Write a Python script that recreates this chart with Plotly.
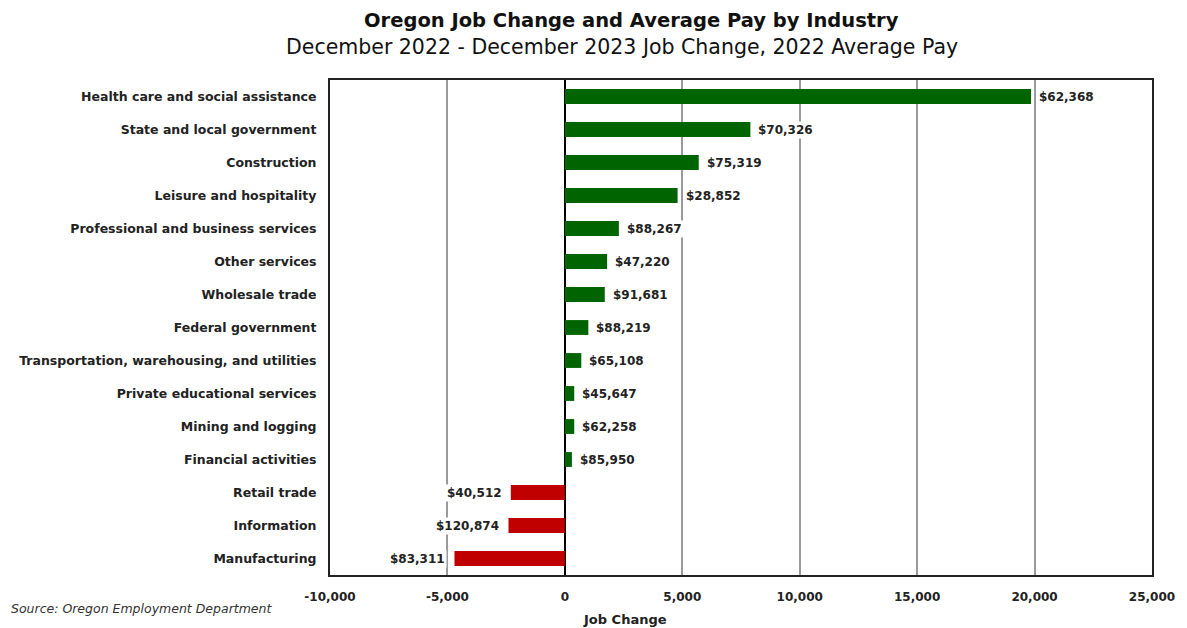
import plotly.graph_objects as go

# Industries listed top to bottom
industries = [
    "Health care and social assistance",
    "State and local government",
    "Construction",
    "Leisure and hospitality",
    "Professional and business services",
    "Other services",
    "Wholesale trade",
    "Federal government",
    "Transportation, warehousing, and utilities",
    "Private educational services",
    "Mining and logging",
    "Financial activities",
    "Retail trade",
    "Information",
    "Manufacturing",
]

# Dec 2022 - Dec 2023 job change
job_change = [19850, 7900, 5700, 4800, 2300, 1800, 1700, 1000, 700, 400, 400, 300, -2300, -2400, -4700]

# 2022 average pay
avg_pay = [62368, 70326, 75319, 28852, 88267, 47220, 91681, 88219, 65108, 45647, 62258, 85950, 40512, 120874, 83311]

x_ticks = [-10000, -5000, 0, 5000, 10000, 15000, 20000, 25000]

GREEN = "#006400"
RED = "#C00000"
FONT = "DejaVu Sans, Verdana, sans-serif"

colors = [GREEN if v >= 0 else RED for v in job_change]

fig = go.Figure(
    go.Bar(
        x=job_change,
        y=industries,
        orientation="h",
        marker=dict(color=colors, line=dict(width=0)),
        width=0.45,
        hoverinfo="skip",
    )
)

annotations = []
for name, v, pay in zip(industries, job_change, avg_pay):
    annotations.append(dict(
        x=v, y=name, xref="x", yref="y",
        text=f"<b>${pay:,}</b>",
        showarrow=False,
        xanchor="left" if v >= 0 else "right",
        xshift=6 if v >= 0 else -7,
        bgcolor="white",
        borderpad=1,
        font=dict(family=FONT, size=12, color="#222"),
    ))

# Titles, axis caption and source line
annotations += [
    dict(xref="paper", yref="paper", x=0.367, y=1.121,
         text="<b>Oregon Job Change and Average Pay by Industry</b>",
         showarrow=False, xanchor="center", yanchor="middle",
         font=dict(family=FONT, size=19.5, color="#111")),
    dict(xref="paper", yref="paper", x=0.355, y=1.067,
         text="December 2022 - December 2023 Job Change, 2022 Average Pay",
         showarrow=False, xanchor="center", yanchor="middle",
         font=dict(family=FONT, size=20.5, color="#111")),
    dict(xref="paper", yref="paper", x=0.359, y=-0.089,
         text="<b>Job Change</b>",
         showarrow=False, xanchor="center", yanchor="middle",
         font=dict(family=FONT, size=13, color="#222")),
    dict(xref="paper", yref="paper", x=-0.39, y=-0.068,
         text="<i>Source: Oregon Employment Department</i>",
         showarrow=False, xanchor="left", yanchor="middle",
         font=dict(family=FONT, size=12.5, color="#333")),
]

fig.update_layout(
    width=1187, height=628,
    margin=dict(l=330, r=28, t=80, b=53),
    paper_bgcolor="white",
    plot_bgcolor="white",
    showlegend=False,
    bargap=0.55,
    annotations=annotations,
    font=dict(family=FONT, color="#222"),
)

fig.update_xaxes(
    range=[-10000, 25000],
    tickvals=x_ticks,
    ticktext=[f"<b>{t:,}</b>" for t in x_ticks],
    tickfont=dict(family=FONT, size=12, color="#222"),
    showgrid=True, gridcolor="#9a9a9a", gridwidth=1.5,
    zeroline=True, zerolinecolor="black", zerolinewidth=2,
    showline=True, linecolor="#222", linewidth=2, mirror=True,
    ticks="", ticklabelstandoff=10,
    fixedrange=True,
)

fig.update_yaxes(
    autorange="reversed",
    tickfont=dict(family=FONT, size=12.5, color="#222"),
    tickvals=industries,
    ticktext=[f"<b>{c}</b>" for c in industries],
    showgrid=False,
    showline=True, linecolor="#222", linewidth=2, mirror=True,
    ticks="", ticklabelstandoff=9,
    fixedrange=True,
)

fig.write_html("out.html")
